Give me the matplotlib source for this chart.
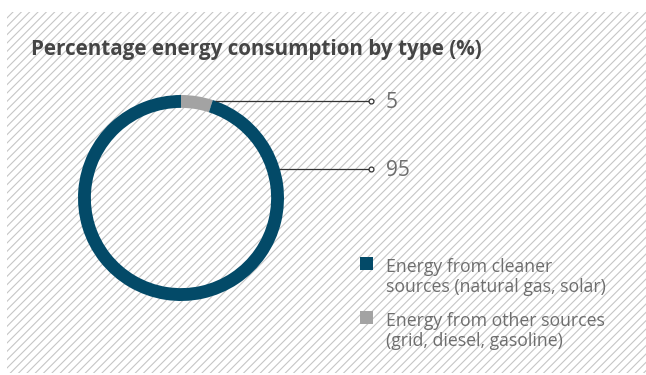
import numpy as np
import matplotlib.pyplot as plt
from matplotlib.patches import Rectangle

plt.rcParams['font.family'] = ['Open Sans', 'DejaVu Sans']
plt.rcParams['hatch.linewidth'] = 0.8

title = 'Percentage energy consumption by type (%)'
labels = ['Energy from other sources\n(grid, diesel, gasoline)',
          'Energy from cleaner\nsources (natural gas, solar)']
values = [5, 95]
colors = ['#a3a3a3', '#034a68']
label_y = [101, 169]    # pixel rows of the value labels
legend_order = [1, 0]

W, H = 646, 375
fig = plt.figure(figsize=(W / 100, H / 100), dpi=100)

def px(x, y):
    return x / W, 1 - y / H

# hatched background panel
bg = Rectangle(px(7, 373), (W - 7) / W, (373 - 12) / H, transform=fig.transFigure,
               facecolor='white', edgecolor='#c6c6c6', linewidth=0, hatch='////', zorder=-5)
fig.patches.append(bg)

fig.text(*px(31, 49), title, fontsize=14.9, fontweight='bold', color='#454545', va='center')

# donut
cx, cy, r = 181, 198, 103
ax = fig.add_axes([(cx - r) / W, 1 - (cy + r) / H, 2 * r / W, 2 * r / H], zorder=2)
ax.set_facecolor('none')
ax.pie(values, colors=colors, startangle=90, counterclock=False, radius=1,
       wedgeprops=dict(width=0.125, linewidth=0))
ax.set_xlim(-1, 1)
ax.set_ylim(-1, 1)
ax.axis('off')

# leader lines and value labels
for v, ly in zip(values, label_y):
    dy = (cy - ly) / r
    dx = np.sqrt(1 - dy ** 2)
    x0 = cx + dx * r
    x1 = 371
    fig.lines.append(plt.Line2D([x0 / W, x1 / W], [1 - ly / H] * 2, transform=fig.transFigure,
                                color='#333333', linewidth=0.9))
    fig.lines.append(plt.Line2D([x1 / W], [1 - ly / H], transform=fig.transFigure,
                                marker='o', markersize=3.5, markerfacecolor='white',
                                markeredgecolor='#333333', markeredgewidth=0.9))
    fig.text(*px(386, ly + 7), str(v), fontsize=15, color='#6d6d6d', va='baseline')

# legend (baseline alignment uses the last line of the label)
for k, i in enumerate(legend_order):
    top = 257 + k * 54
    fig.patches.append(Rectangle(px(360, top + 13), 13 / W, 13 / H, transform=fig.transFigure,
                                 facecolor=colors[i], linewidth=0))
    fig.text(*px(386, top + 35.5), labels[i], fontsize=12.7, color='#6d6d6d', va='baseline',
             linespacing=1.2)

fig.savefig('out.png', dpi=100)
